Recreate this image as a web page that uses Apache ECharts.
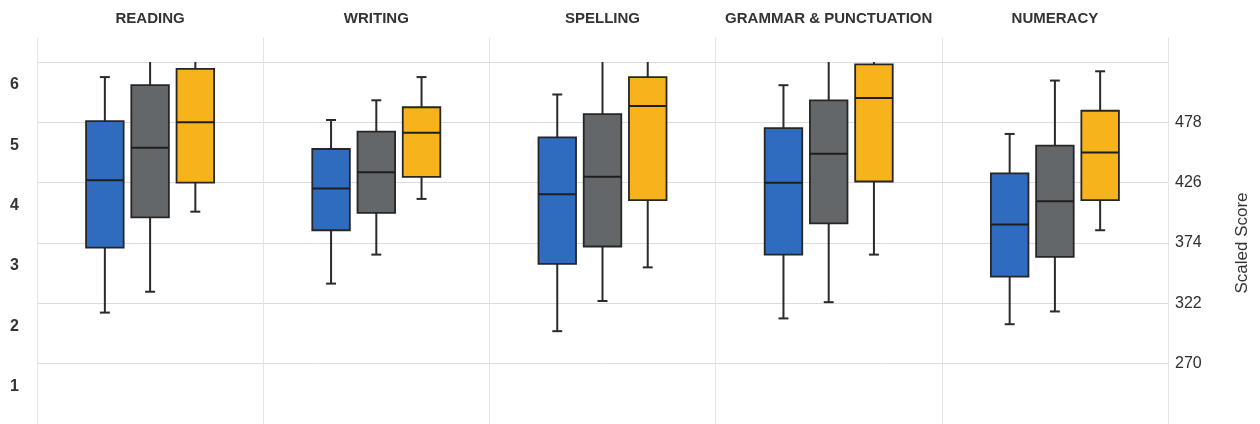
<!DOCTYPE html>
<html>
<head>
<meta charset="utf-8">
<script src="https://cdn.jsdelivr.net/npm/echarts@6/dist/echarts.min.js"></script>
<style>
  html, body { margin: 0; padding: 0; background: #fff; }
  #chart { width: 1260px; height: 424px; }
</style>
</head>
<body>
<div id="chart"></div>
<script>
// Subjects shown as panels
const subjects = ['READING', 'WRITING', 'SPELLING', 'GRAMMAR & PUNCTUATION', 'NUMERACY'];
const groupNames = ['Cohort A', 'Cohort B', 'Cohort C'];

// Five-number summaries per subject: [min, Q1, median, Q3, max]
const cohortA = [
  [314, 370, 428, 479, 517],
  [339, 385, 421, 455, 480],
  [298, 356, 416, 465, 502],
  [309, 364, 426, 473, 510],
  [304, 345, 390, 434, 468]
];
const cohortB = [
  [332, 396, 456, 510, 545],
  [364, 400, 435, 470, 497],
  [324, 371, 431, 485, 545],
  [323, 391, 451, 497, 545],
  [315, 362, 410, 458, 514]
];
const cohortC = [
  [401, 426, 478, 524, 545],
  [412, 431, 469, 491, 517],
  [353, 411, 492, 517, 545],
  [364, 427, 499, 528, 545],
  [385, 411, 452, 488, 522]
];

// Scaled-score cut points and band names
const scoreTicks = [270, 322, 374, 426, 478, 530];
const scoreLabels = [270, 322, 374, 426, 478];
const bandLabels = ['1', '2', '3', '4', '5', '6'];

const colors = ['#2f6cc0', '#646769', '#f7b31b'];
const cohorts = [cohortA, cohortB, cohortC];

const step = scoreTicks[1] - scoreTicks[0];
const bandLabelValues = bandLabels.map((b, i) => scoreTicks[0] + (i - 1) * step + step * 0.62);
const yMin = 218;
const yMax = scoreTicks[scoreTicks.length - 1];

function renderBox(groupIdx) {
  return function (params, api) {
    const cat = api.value(0);
    const band = api.size([1, 0])[0];
    const cx = api.coord([cat, api.value(3)])[0] + (groupIdx - 1) * band * 0.2;
    const half = band * 0.083;
    const cap = band * 0.022;
    const y = [1, 2, 3, 4, 5].map(d => api.coord([cat, api.value(d)])[1]);
    const ink = { stroke: '#2a2a2a', lineWidth: 2 };
    return {
      type: 'group',
      children: [
        { type: 'line', shape: { x1: cx, y1: y[0], x2: cx, y2: y[4] }, style: ink },
        { type: 'line', shape: { x1: cx - cap, y1: y[0], x2: cx + cap, y2: y[0] }, style: ink },
        { type: 'line', shape: { x1: cx - cap, y1: y[4], x2: cx + cap, y2: y[4] }, style: ink },
        {
          type: 'rect',
          shape: { x: cx - half, y: y[3], width: half * 2, height: y[1] - y[3] },
          style: { fill: colors[groupIdx], stroke: '#262626', lineWidth: 1.8 }
        },
        { type: 'line', shape: { x1: cx - half, y1: y[2], x2: cx + half, y2: y[2] }, style: { stroke: '#1e1e1e', lineWidth: 2 } }
      ]
    };
  };
}

const chart = echarts.init(document.getElementById('chart'), null, { renderer: 'canvas' });

chart.setOption({
  animation: false,
  backgroundColor: '#fff',
  textStyle: { fontFamily: 'Liberation Sans, Arial, sans-serif' },
  grid: [
    { left: 37, right: 92, top: 62, bottom: 0 },
    { left: 37, right: 92, top: 38, bottom: 0 }
  ],
  xAxis: [
    {
      type: 'category', gridIndex: 0, data: subjects, show: false
    },
    {
      type: 'category', gridIndex: 1, data: subjects, position: 'top',
      axisLine: { show: false }, axisTick: { show: false, interval: 0 },
      splitLine: { show: true, interval: 0, lineStyle: { color: '#e4e4e4', width: 1 } },
      axisLabel: { interval: 0, color: '#333', fontSize: 15, fontWeight: 'bold', margin: 12 }
    }
  ],
  yAxis: [
    {
      type: 'value', gridIndex: 0, position: 'right', min: yMin, max: yMax,
      name: 'Scaled Score', nameLocation: 'middle', nameRotate: 90, nameGap: 66,
      nameTextStyle: { color: '#333', fontSize: 17 },
      axisLine: { show: false },
      axisTick: { show: false, customValues: scoreTicks },
      axisLabel: { customValues: scoreLabels, color: '#2e2e2e', fontSize: 16, margin: 7 },
      splitLine: { show: true, lineStyle: { color: '#dcdcdc', width: 1 } }
    },
    {
      type: 'value', gridIndex: 0, position: 'left', min: yMin, max: yMax,
      axisLine: { show: false },
      axisTick: { show: false },
      splitLine: { show: false },
      axisLabel: {
        customValues: bandLabelValues, color: '#333', fontSize: 16, fontWeight: 'bold', margin: 18,
        formatter: v => bandLabels[Math.round((v - bandLabelValues[0]) / step)]
      }
    },
    { type: 'value', gridIndex: 1, show: false, min: yMin, max: yMax }
  ],
  series: cohorts.map((rows, g) => ({
    type: 'custom',
    name: groupNames[g],
    xAxisIndex: 0,
    yAxisIndex: 0,
    clip: true,
    renderItem: renderBox(g),
    encode: { x: 0, y: [1, 2, 3, 4, 5] },
    data: rows.map((r, i) => [i].concat(r))
  }))
});
</script>
</body>
</html>
